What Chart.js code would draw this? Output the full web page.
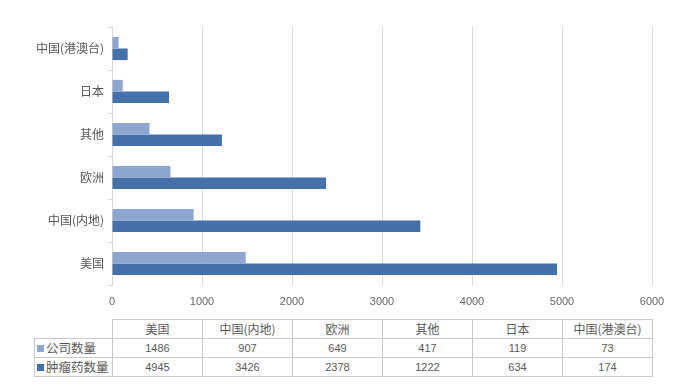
<!DOCTYPE html>
<html>
<head>
<meta charset="utf-8">
<script src="https://cdn.jsdelivr.net/npm/chart.js@4/dist/chart.umd.min.js"></script>
<style>
  html, body { margin: 0; padding: 0; background: #fff; }
  body { width: 689px; height: 387px; position: relative; overflow: hidden; font-family: "Noto Sans CJK SC", "Liberation Sans", sans-serif; }
  #wrap { position: absolute; left: 0; top: 0; width: 689px; height: 310px; }
  #tbl { position: absolute; left: 34px; top: 319px; border-collapse: collapse; table-layout: fixed; color: #595959; }
  #tbl td { border: 1px solid #c9c9c9; height: 18px; padding: 0; text-align: center; font-size: 11px; line-height: 18px; white-space: nowrap; overflow: hidden; }
  #tbl td.hdr { font-size: 12px; }
  #tbl td.blank { border-top: none; border-left: none; }
  #tbl td.rl { text-align: left; font-size: 12.5px; padding-left: 2px; }
  #tbl td.num { font-family: "Liberation Sans", sans-serif; }
  .key { display: inline-block; width: 7px; height: 7px; margin-right: 2px; vertical-align: 1px; }
</style>
</head>
<body>
<div id="wrap"><canvas id="c"></canvas></div>
<table id="tbl"></table>
<script>
const categories = ['美国', '中国(内地)', '欧洲', '其他', '日本', '中国(港澳台)'];
const seriesNames = ['公司数量', '肿瘤药数量'];
const companyCounts = [1486, 907, 649, 417, 119, 73];
const drugCounts = [4945, 3426, 2378, 1222, 634, 174];
const xMax = 6000;
const xStep = 1000;
const colors = ['#8da6cf', '#4571aa'];

const seriesValues = [companyCounts, drugCounts];

new Chart(document.getElementById('c'), {
  type: 'bar',
  data: {
    labels: categories,
    datasets: seriesNames.map((name, i) => ({
      label: name,
      data: seriesValues[i],
      backgroundColor: colors[i],
      borderWidth: 0,
      categoryPercentage: 0.54,
      barPercentage: 1.0
    }))
  },
  options: {
    indexAxis: 'y',
    responsive: true,
    maintainAspectRatio: false,
    animation: false,
    layout: { padding: { top: 27, right: 37, bottom: 0, left: 0 } },
    plugins: { legend: { display: false }, tooltip: { enabled: false } },
    scales: {
      x: {
        min: 0,
        max: xMax,
        ticks: { stepSize: xStep, color: '#666', padding: 10, font: { family: 'Liberation Sans', size: 11 },
                 callback: (v) => String(v) },
        grid: { color: '#d9d9d9', drawTicks: false },
        border: { display: false },
        afterFit: (s) => { s.height = 25; }
      },
      y: {
        reverse: true,
        ticks: { color: '#595959', padding: 4, font: { family: 'Noto Sans CJK SC', size: 12 } },
        grid: { color: '#d9d9d9', drawOnChartArea: false, tickLength: 4, offset: true },
        border: { color: '#d9d9d9' },
        afterFit: (s) => { s.width = 112; }
      }
    }
  }
});

// data table under the chart
const tbl = document.getElementById('tbl');
const cg = document.createElement('colgroup');
[78].concat(categories.map(() => 90)).forEach(w => {
  const c = document.createElement('col'); c.style.width = w + 'px'; cg.appendChild(c);
});
tbl.appendChild(cg);
const hr = document.createElement('tr');
const blank = document.createElement('td'); blank.className = 'blank'; hr.appendChild(blank);
categories.forEach(c => { const td = document.createElement('td'); td.className = 'hdr'; td.textContent = c; hr.appendChild(td); });
tbl.appendChild(hr);
seriesNames.forEach((name, i) => {
  const tr = document.createElement('tr');
  const l = document.createElement('td'); l.className = 'rl';
  const k = document.createElement('span'); k.className = 'key'; k.style.background = colors[i];
  l.appendChild(k); l.appendChild(document.createTextNode(name));
  tr.appendChild(l);
  seriesValues[i].forEach(v => { const td = document.createElement('td'); td.className = 'num'; td.textContent = v; tr.appendChild(td); });
  tbl.appendChild(tr);
});
</script>
</body>
</html>
